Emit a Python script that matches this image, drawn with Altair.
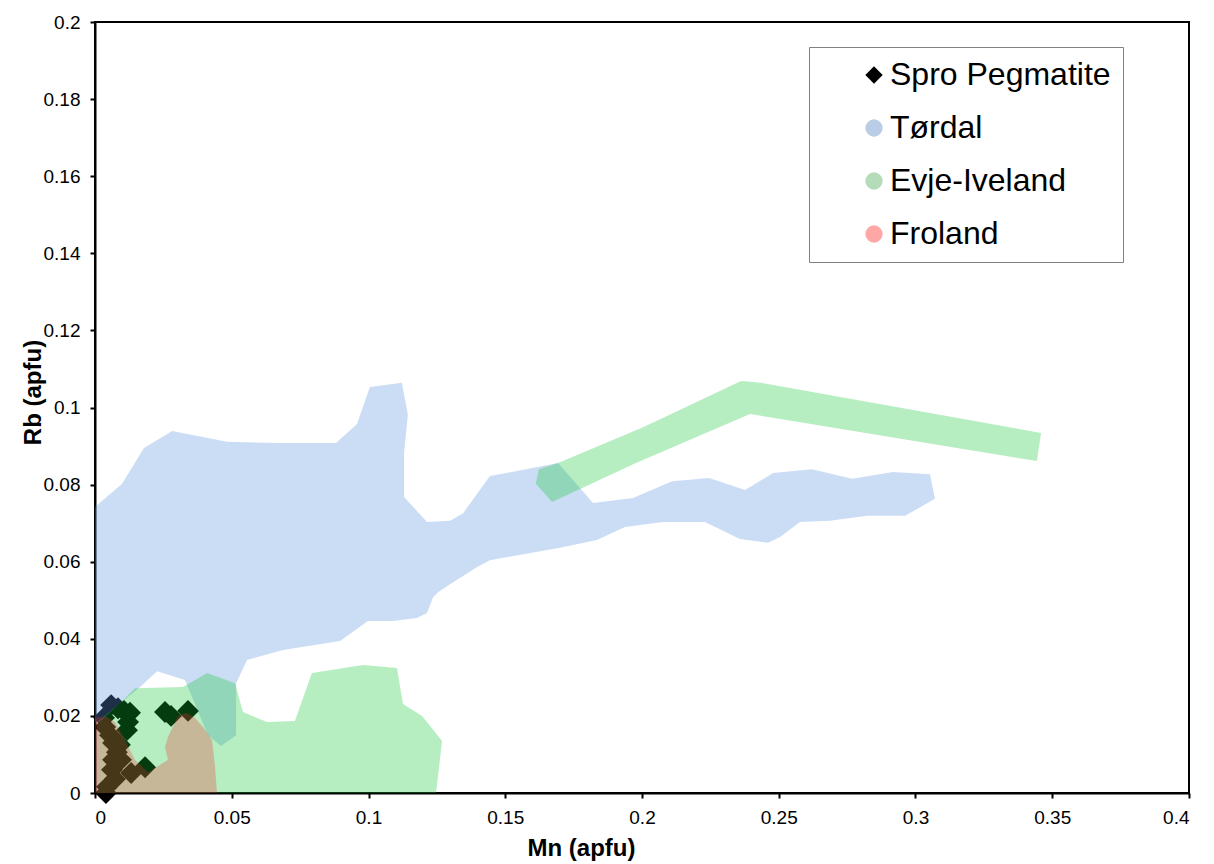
import altair as alt
import pandas as pd

# ---- data (Mn apfu, Rb apfu) ----
tordal_mn = [0.0, 0.0099, 0.0179, 0.0282, 0.0483, 0.0676, 0.0881, 0.0958, 0.1005, 0.1122,
             0.1144, 0.1130, 0.1130, 0.1214, 0.1298, 0.1346, 0.1444, 0.1693, 0.1821, 0.1967,
             0.2110, 0.2245, 0.2377, 0.2479, 0.2622, 0.2768, 0.2918, 0.3053, 0.3071, 0.2962,
             0.2823, 0.2687, 0.2578, 0.2505, 0.2461, 0.2358, 0.2230, 0.2077, 0.1938, 0.1835,
             0.1700, 0.1444, 0.1397, 0.1346, 0.1305, 0.1254, 0.1236, 0.1214, 0.1177, 0.1090,
             0.0998, 0.0896, 0.0687, 0.0556, 0.0516, 0.0516, 0.0461, 0.0413, 0.0329, 0.0227,
             0.0165, 0.0084, 0.0018, 0.0]
tordal_rb = [0.0742, 0.0802, 0.0895, 0.0939, 0.0911, 0.0908, 0.0908, 0.0957, 0.1053, 0.1064,
             0.0981, 0.0882, 0.0768, 0.0703, 0.0706, 0.0726, 0.0822, 0.0856, 0.0752, 0.0765,
             0.0809, 0.0817, 0.0786, 0.0830, 0.0840, 0.0815, 0.0833, 0.0827, 0.0763, 0.0719,
             0.0719, 0.0706, 0.0703, 0.0664, 0.0649, 0.0659, 0.0703, 0.0703, 0.0690, 0.0656,
             0.0636, 0.0604, 0.0586, 0.0563, 0.0545, 0.0521, 0.0508, 0.0467, 0.0454, 0.0446,
             0.0446, 0.0394, 0.0371, 0.0345, 0.0285, 0.0150, 0.0122, 0.0150, 0.0293, 0.0316,
             0.0275, 0.0228, 0.0184, 0.0184]

evje_a_mn = [0.0007, 0.0007, 0.0091, 0.0146, 0.0322, 0.0410, 0.0512, 0.0541, 0.0629, 0.0731,
             0.0793, 0.0980, 0.1104, 0.1126, 0.1196, 0.1269, 0.1247]
evje_a_rb = [0.0, 0.0184, 0.0233, 0.0272, 0.0275, 0.0311, 0.0285, 0.0210, 0.0184, 0.0187,
             0.0311, 0.0332, 0.0324, 0.0231, 0.0200, 0.0135, 0.0]

evje_b_mn = [0.1623, 0.1693, 0.2004, 0.2362, 0.2435, 0.3459, 0.3444, 0.2395, 0.1978, 0.1671, 0.1612]
evje_b_rb = [0.0840, 0.0856, 0.0949, 0.1069, 0.1064, 0.0934, 0.0861, 0.0983, 0.0856, 0.0755, 0.0802]

froland_mn = [0.0, 0.0, 0.0037, 0.0073, 0.0110, 0.0146, 0.0194, 0.0238, 0.0267, 0.0256,
              0.0267, 0.0303, 0.0333, 0.0362, 0.0395, 0.0428, 0.0439, 0.0446]
froland_rb = [0.0, 0.0195, 0.0200, 0.0184, 0.0137, 0.0086, 0.0054, 0.0073, 0.0086, 0.0119,
              0.0145, 0.0200, 0.0208, 0.0197, 0.0171, 0.0137, 0.0067, 0.0]

spro_mn = [0.0059, 0.0084, 0.0106, 0.0128, 0.0121, 0.0117, 0.0256, 0.0278, 0.0340, 0.0183,
           0.0037, 0.0033, 0.0055, 0.0066, 0.0091, 0.0080, 0.0066, 0.0095, 0.0062, 0.0132,
           0.0073, 0.0044, 0.0040]
spro_rb = [0.0228, 0.0220, 0.0213, 0.0208, 0.0184, 0.0163, 0.0210, 0.0200, 0.0213, 0.0067,
           0.0171, 0.0195, 0.0150, 0.0130, 0.0125, 0.0106, 0.0086, 0.0086, 0.0060, 0.0052,
           0.0036, 0.0016, 0.0]

series_names = ["Spro Pegmatite", "Tørdal", "Evje-Iveland", "Froland"]
x_ticks = [0, 0.05, 0.1, 0.15, 0.2, 0.25, 0.3, 0.35, 0.4]
y_ticks = [0, 0.02, 0.04, 0.06, 0.08, 0.1, 0.12, 0.14, 0.16, 0.18, 0.2]

FONT = "Liberation Sans"


def poly_df(mn, rb, part):
    return pd.DataFrame({"Mn": mn, "Rb": rb, "i": list(range(len(mn))), "part": part})


tordal_df = poly_df(tordal_mn, tordal_rb, "a")
evje_df = pd.concat([poly_df(evje_a_mn, evje_a_rb, "a"), poly_df(evje_b_mn, evje_b_rb, "b")])
froland_df = poly_df(froland_mn, froland_rb, "a")
spro_df = pd.DataFrame({"Mn": spro_mn, "Rb": spro_rb, "series": "Spro Pegmatite"})

xscale = alt.Scale(domain=[0, 0.4], nice=False, zero=False)
yscale = alt.Scale(domain=[0, 0.2], nice=False, zero=False)

x_enc = alt.X("Mn:Q", scale=xscale, axis=alt.Axis(
    title="Mn (apfu)", values=x_ticks, format="~g", titleX=486, titleY=62,
    titleBaseline="alphabetic"))
y_enc = alt.Y("Rb:Q", scale=yscale, axis=alt.Axis(
    title="Rb (apfu)", values=y_ticks, format="~g", titleX=-55, titleY=370,
    titleBaseline="alphabetic"))

points = alt.Chart(spro_df).mark_point(filled=True, size=480, opacity=1).encode(
    x=x_enc, y=y_enc,
    color=alt.Color("series:N", scale=alt.Scale(
        domain=series_names, range=["#000000", "#b9cde6", "#b4dcb9", "#ffa6a6"]),
        legend=alt.Legend(title=None, orient="none", legendX=714, legendY=25,
                          padding=12, strokeColor="#808080",
                          fillColor="white", labelFontSize=32, labelFont=FONT,
                          labelColor="black", symbolSize=300, symbolOffset=37,
                          labelOffset=0, rowPadding=21, symbolStrokeWidth=0,
                          labelLimit=400)),
    shape=alt.Shape("series:N", scale=alt.Scale(
        domain=series_names, range=["diamond", "circle", "circle", "circle"]),
        legend=None),
)


def poly_layer(df, fill, opacity):
    return alt.Chart(df).mark_line(fill=fill, fillOpacity=opacity, strokeOpacity=0,
                                   strokeWidth=0, clip=True).encode(
        x="Mn:Q", y="Rb:Q", order=alt.Order("i:Q"), detail="part:N")


tordal = poly_layer(tordal_df, "#5e96e1", 0.32)
evje = poly_layer(evje_df, "#11c832", 0.30)
froland = poly_layer(froland_df, "#ed2a33", 0.28)

chart = alt.layer(points, tordal, evje, froland).properties(
    width=1094, height=771,
    padding={"left": 95, "top": 22, "right": 25, "bottom": 71},
    autosize=alt.AutoSizeParams(type="none"),
).configure(background="white").configure_view(
    stroke="black", strokeWidth=2
).configure_axis(
    grid=False, domainColor="black", domainWidth=2, tickColor="black", tickWidth=2,
    tickSize=5, labelFont=FONT, labelFontSize=19, labelColor="black", labelPadding=10,
    titleFont=FONT, titleFontSize=24, titleFontWeight="bold", titleColor="black",
)

chart.save("out.html", embed_options={"renderer": "svg", "actions": False})
